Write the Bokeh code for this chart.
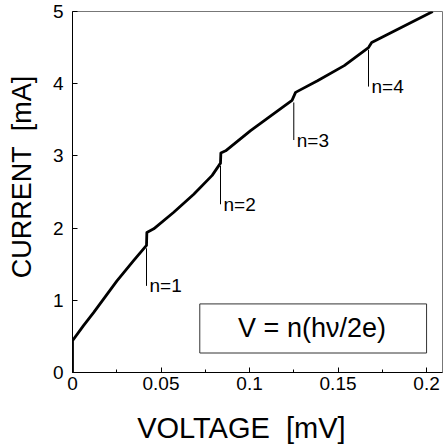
from bokeh.plotting import figure
from bokeh.models import FixedTicker, Range1d, ColumnDataSource
from bokeh.core.properties import value
from bokeh.embed import file_html
from bokeh.resources import INLINE

FONT = "Liberation Sans"
NBSP = "\u00a0"

# I-V curve of the junction (voltage in mV, current in mA)
voltage = [0, 0, 0.0062, 0.0119, 0.0251, 0.0345, 0.0418, 0.0420, 0.0459, 0.0572,
           0.0685, 0.0789, 0.0836, 0.0838, 0.0865, 0.1006, 0.1120, 0.1240, 0.1260,
           0.1384, 0.1535, 0.1672, 0.1690, 0.2035]
current = [0, 0.44, 0.65, 0.83, 1.27, 1.55, 1.76, 1.94, 1.99, 2.22,
           2.47, 2.73, 2.90, 3.04, 3.07, 3.35, 3.555, 3.77, 3.88,
           4.04, 4.25, 4.50, 4.57, 5.0]

# Shapiro steps V = n(hv/2e)
step_labels = ["n=1", "n=2", "n=3", "n=4"]
step_v = [0.0418, 0.0836, 0.1250, 0.1672]
step_i_top = [1.72, 2.86, 3.74, 4.47]
step_i_bottom = [1.20, 2.33, 3.22, 3.96]

x_ticks = [0, 0.05, 0.1, 0.15, 0.2]
x_tick_labels = ["0", "0.05", "0.1", "0.15", "0.2"]
x_minor = [0.025, 0.075, 0.125, 0.175]
y_ticks = [0, 1, 2, 3, 4, 5]
y_tick_labels = ["0", "1", "2", "3", "4", "5"]

p = figure(width=443, height=446, output_backend="svg", toolbar_location=None,
           x_range=Range1d(0, 0.209), y_range=Range1d(0, 5),
           min_border_left=72, min_border_right=1, min_border_top=11,
           min_border_bottom=74)
p.background_fill_color = "white"
p.border_fill_color = "white"
p.grid.visible = False
p.outline_line_color = "#777777"
p.outline_line_width = 1

# x axis (label pulled toward the origin with trailing padding)
xa = p.xaxis[0]
xa.ticker = FixedTicker(ticks=x_ticks, minor_ticks=x_minor)
xa.major_label_overrides = {t: l for t, l in zip(x_ticks, x_tick_labels)}
xa.axis_label = "VOLTAGE" + NBSP * 2 + "[mV]" + NBSP * 4

# y axis (label pulled toward the top with leading padding)
ya = p.yaxis[0]
ya.ticker = FixedTicker(ticks=y_ticks, minor_ticks=[])
ya.major_label_overrides = {t: l for t, l in zip(y_ticks, y_tick_labels)}
ya.axis_label = NBSP * 4 + "CURRENT" + NBSP * 2 + "[mA]"

for ax in (xa, ya):
    ax.axis_line_color = "black"
    ax.axis_line_width = 1
    ax.major_tick_in = 5
    ax.major_tick_out = 0
    ax.minor_tick_in = 3
    ax.minor_tick_out = 0
    ax.major_tick_line_color = "black"
    ax.minor_tick_line_color = "black"
    ax.major_label_text_font = FONT
    ax.major_label_text_font_size = "19px"
    ax.major_label_text_color = "black"
    ax.axis_label_text_font = FONT
    ax.axis_label_text_font_style = "normal"
    ax.axis_label_text_color = "black"

xa.axis_label_text_font_size = "29px"
ya.axis_label_text_font_size = "27px"
xa.major_label_standoff = 4
xa.axis_label_standoff = 19
ya.major_label_standoff = 9
ya.axis_label_standoff = 13

# current-voltage trace
p.line(voltage, current, line_color="black", line_width=2.8, line_join="round")

# step markers and labels
src = ColumnDataSource(dict(v=step_v, top=step_i_top, bottom=step_i_bottom,
                            label=step_labels))
p.segment(x0="v", y0="top", x1="v", y1="bottom", source=src,
          line_color="black", line_width=1)
p.text(x="v", y="bottom", text="label", source=src, x_offset=3,
       text_font=value(FONT), text_font_size="19px", text_color="black",
       text_align="left", text_baseline="alphabetic")

# formula box
p.quad(left=0.0719, right=0.2, bottom=0.27, top=0.95,
       fill_color="white", line_color="#333333", line_width=1)
p.text(x=[0.1353], y=[0.61], text=["V = n(hν/2e)"],
       text_font=value(FONT), text_font_size="27px", text_color="black",
       text_align="center", text_baseline="middle")

open("out.html", "w").write(file_html(p, INLINE))
